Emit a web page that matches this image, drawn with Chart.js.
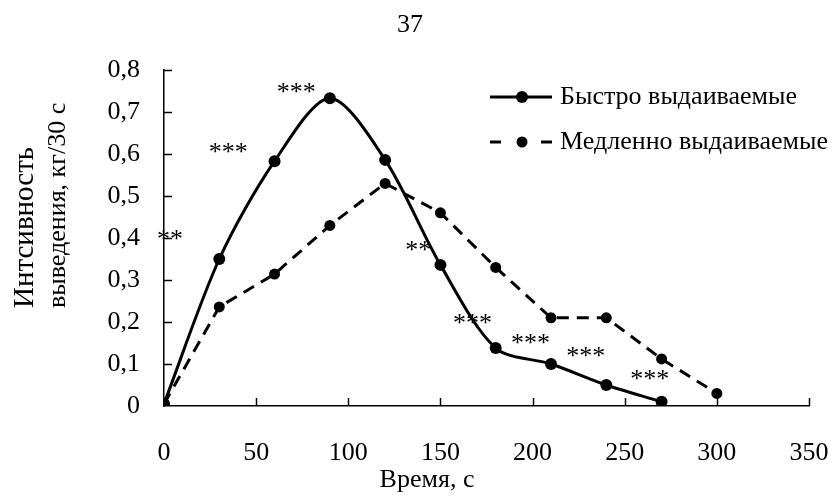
<!DOCTYPE html>
<html>
<head>
<meta charset="utf-8">
<script src="https://cdn.jsdelivr.net/npm/chart.js@4/dist/chart.umd.min.js"></script>
<style>
  html, body { margin: 0; padding: 0; background: #fff; }
  canvas { display: block; }
</style>
</head>
<body>
<canvas id="grafico" width="836" height="498"></canvas>
<script>
// dados
var tempo = [0, 30, 60, 90, 120, 150, 180, 210, 240, 270, 300]
var rapidas = [0.005, 0.35, 0.583, 0.733, 0.586, 0.336, 0.138, 0.10, 0.05, 0.01]
var lentas = [0.005, 0.236, 0.314, 0.43, 0.53, 0.46, 0.33, 0.21, 0.21, 0.112, 0.03]
var nomes = ['Быстро выдаиваемые', 'Медленно выдаиваемые']

// asteriscos de significância
var estrelasX = [71.7, 34.8, 3.3, 138, 167.4, 198.9, 228.8, 263.6]
var estrelasY = [0.757, 0.614, 0.407, 0.381, 0.207, 0.16, 0.129, 0.074]
var estrelasTexto = ['***', '***', '**', '**', '***', '***', '***', '***']

var tituloY = ['Интсивность', 'выведения, кг/30 с']
var tituloX = 'Время, с'
var numeroPagina = '37'

var fonte = "'Liberation Serif', 'Times New Roman', serif"

function pontos(valores) {
    var lista = []
    for (var i = 0; i < valores.length; i++) {
        lista.push({ x: tempo[i], y: valores[i] })
    }
    return lista
}

const extras = {
    id: 'extras',
    afterDraw(chart) {
        const ctx = chart.ctx
        const sx = chart.scales.x
        const sy = chart.scales.y
        ctx.save()
        ctx.fillStyle = '#000'
        ctx.strokeStyle = '#000'

        // marcas dos eixos para dentro
        ctx.lineWidth = 1.5
        sy.ticks.forEach(function (t) {
            if (t.value == 0) return
            var py = Math.round(sy.getPixelForValue(t.value)) + 0.5
            ctx.beginPath()
            ctx.moveTo(sx.left, py)
            ctx.lineTo(sx.left + 8, py)
            ctx.stroke()
        })
        sx.ticks.forEach(function (t) {
            if (t.value == 0) return
            var px = Math.round(sx.getPixelForValue(t.value)) + 0.5
            ctx.beginPath()
            ctx.moveTo(px, sy.bottom)
            ctx.lineTo(px, sy.bottom - 8)
            ctx.stroke()
        })

        // asteriscos
        ctx.font = '26px ' + fonte
        ctx.textAlign = 'center'
        ctx.textBaseline = 'alphabetic'
        for (var i = 0; i < estrelasTexto.length; i++) {
            ctx.fillText(estrelasTexto[i], sx.getPixelForValue(estrelasX[i]), sy.getPixelForValue(estrelasY[i]) + 12)
        }

        ctx.font = '26px ' + fonte
        // número da página
        ctx.textAlign = 'center'
        ctx.fillText(numeroPagina, 410, 32)

        // título do eixo x
        ctx.fillText(tituloX, 427, 487)

        // título do eixo y
        ctx.save()
        ctx.translate(0, 308)
        ctx.rotate(-Math.PI / 2)
        ctx.textAlign = 'left'
        ctx.font = '29px ' + fonte
        ctx.fillText(tituloY[0], 0, 33)
        ctx.font = '26px ' + fonte
        ctx.fillText(tituloY[1], 0, 65)
        ctx.restore()

        // legenda
        var linhas = [97, 142]
        chart.data.datasets.forEach(function (ds, i) {
            var y = linhas[i]
            ctx.lineWidth = ds.borderWidth
            ctx.beginPath()
            if (ds.borderDash) {
                ctx.moveTo(490, y); ctx.lineTo(501, y)
                ctx.moveTo(541, y); ctx.lineTo(552, y)
            } else {
                ctx.moveTo(490, y); ctx.lineTo(552, y)
            }
            ctx.stroke()
            ctx.beginPath()
            ctx.arc(522, y, ds.pointRadius, 0, Math.PI * 2)
            ctx.fill()
            ctx.textAlign = 'left'
            ctx.fillText(ds.label, 560, y + 7)
        })
        ctx.restore()
    }
}

const grafico = new Chart(document.getElementById('grafico'), {
    type: 'line',
    data: {
        datasets: [{
            label: nomes[0],
            data: pontos(rapidas),
            borderColor: '#000',
            backgroundColor: '#000',
            borderWidth: 3,
            pointRadius: 6,
            pointBorderWidth: 0,
            tension: 0.3
        }, {
            label: nomes[1],
            data: pontos(lentas),
            borderColor: '#000',
            backgroundColor: '#000',
            borderWidth: 3,
            borderDash: [12, 8],
            pointRadius: 5.5,
            pointBorderWidth: 0,
            tension: 0
        }]
    },
    options: {
        responsive: false,
        animation: false,
        layout: { padding: { top: 70, right: 27, left: 0, bottom: 0 } },
        plugins: {
            legend: { display: false },
            tooltip: { enabled: false }
        },
        scales: {
            x: {
                type: 'linear',
                min: 0,
                max: 350,
                afterFit: function (s) {
                    s.height = 92
                    s.paddingLeft = 0
                    s.paddingRight = 0
                },
                ticks: {
                    stepSize: 50,
                    color: '#000',
                    font: { family: fonte, size: 26 },
                    padding: 32,
                    maxRotation: 0
                },
                grid: { display: false, drawTicks: false },
                border: { display: true, color: '#000', width: 1.5 }
            },
            y: {
                min: 0,
                max: 0.8,
                afterFit: function (s) {
                    s.width = 164
                    s.paddingTop = 0
                    s.paddingBottom = 0
                },
                ticks: {
                    stepSize: 0.1,
                    color: '#000',
                    font: { family: fonte, size: 26 },
                    padding: 24,
                    callback: function (v) {
                        if (v == 0) return '0'
                        return v.toFixed(1).replace('.', ',')
                    }
                },
                grid: { display: false, drawTicks: false },
                border: { display: true, color: '#000', width: 1.5 }
            }
        }
    },
    plugins: [extras]
});
</script>
</body>
</html>
